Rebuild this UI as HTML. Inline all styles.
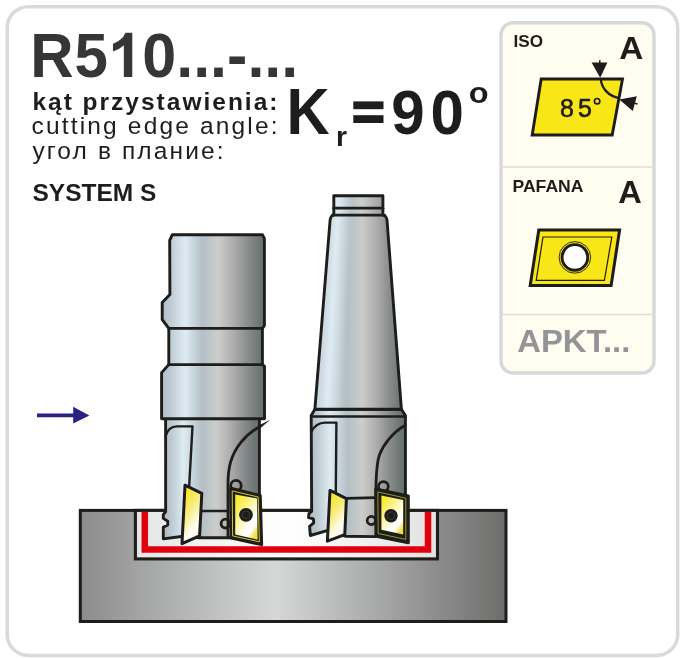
<!DOCTYPE html>
<html><head><meta charset="utf-8"><title>R510</title>
<style>html,body{margin:0;padding:0;background:#fff;}body{width:681px;height:659px;overflow:hidden;font-family:"Liberation Sans",sans-serif;}svg{display:block;will-change:transform;}</style>
</head><body>
<svg width="681" height="659" viewBox="0 0 681 659">
<defs>
<linearGradient id="mL" gradientUnits="userSpaceOnUse" x1="162" y1="0" x2="265.5" y2="0"><stop offset="0.000" stop-color="#b0bdc5"/><stop offset="0.090" stop-color="#c0cdd4"/><stop offset="0.227" stop-color="#deebf3"/><stop offset="0.386" stop-color="#b4bfc6"/><stop offset="0.540" stop-color="#cbcdcb"/><stop offset="0.680" stop-color="#b1afb0"/><stop offset="0.820" stop-color="#8b8f8e"/><stop offset="0.947" stop-color="#6e7576"/><stop offset="1.000" stop-color="#6a7172"/></linearGradient>
<linearGradient id="mR" gradientUnits="userSpaceOnUse" x1="311.2" y1="0" x2="405.4" y2="0"><stop offset="0.000" stop-color="#b0bdc5"/><stop offset="0.080" stop-color="#c0cdd4"/><stop offset="0.200" stop-color="#deebf3"/><stop offset="0.386" stop-color="#b4bfc6"/><stop offset="0.540" stop-color="#cbcdcb"/><stop offset="0.680" stop-color="#b1afb0"/><stop offset="0.820" stop-color="#8b8f8e"/><stop offset="0.947" stop-color="#6e7576"/><stop offset="1.000" stop-color="#6a7172"/></linearGradient>
<linearGradient id="mLb" gradientUnits="userSpaceOnUse" x1="165.6" y1="0" x2="259.4" y2="0"><stop offset="0.000" stop-color="#b0bdc5"/><stop offset="0.076" stop-color="#c0cdd4"/><stop offset="0.190" stop-color="#deebf3"/><stop offset="0.386" stop-color="#b4bfc6"/><stop offset="0.540" stop-color="#cbcdcb"/><stop offset="0.680" stop-color="#b1afb0"/><stop offset="0.820" stop-color="#8b8f8e"/><stop offset="0.947" stop-color="#6e7576"/><stop offset="1.000" stop-color="#6a7172"/></linearGradient>
<linearGradient id="mRb" gradientUnits="userSpaceOnUse" x1="311.2" y1="0" x2="405.4" y2="0"><stop offset="0.000" stop-color="#c2cfd6"/><stop offset="0.090" stop-color="#c1ced5"/><stop offset="0.250" stop-color="#bdc9d0"/><stop offset="0.386" stop-color="#b4bfc6"/><stop offset="0.540" stop-color="#cbcdcb"/><stop offset="0.680" stop-color="#b1afb0"/><stop offset="0.820" stop-color="#8b8f8e"/><stop offset="0.947" stop-color="#6e7576"/><stop offset="1.000" stop-color="#6a7172"/></linearGradient>
<linearGradient id="hl" gradientUnits="userSpaceOnUse" x1="-13" y1="0" x2="15" y2="0" gradientTransform="translate(332.4 308.3) matrix(1 0 -0.053 1 0 0)"><stop offset="0" stop-color="#deebf3" stop-opacity="0"/><stop offset="0.46" stop-color="#deebf3" stop-opacity="1"/><stop offset="1" stop-color="#deebf3" stop-opacity="0"/></linearGradient>
<clipPath id="coneclip"><path d="M333.8,195.7 L382.9,195.7 L382.9,215.1 Q386.2,215.6 387,220 L401.4,409.2 L314.9,409.2 L330.1,220 Q330.8,215.6 333.8,215.1 Z"/></clipPath>
<linearGradient id="mCap" gradientUnits="userSpaceOnUse" x1="332.5" y1="0" x2="384.5" y2="0"><stop offset="0.000" stop-color="#b0bdc5"/><stop offset="0.090" stop-color="#c0cdd4"/><stop offset="0.227" stop-color="#deebf3"/><stop offset="0.386" stop-color="#b4bfc6"/><stop offset="0.540" stop-color="#cbcdcb"/><stop offset="0.680" stop-color="#b1afb0"/><stop offset="0.820" stop-color="#8b8f8e"/><stop offset="0.947" stop-color="#6e7576"/><stop offset="1.000" stop-color="#6a7172"/></linearGradient>
<linearGradient id="mO" x1="0" y1="0" x2="1" y2="0"><stop offset="0.000" stop-color="#b0bdc5"/><stop offset="0.090" stop-color="#c0cdd4"/><stop offset="0.227" stop-color="#deebf3"/><stop offset="0.386" stop-color="#b4bfc6"/><stop offset="0.540" stop-color="#cbcdcb"/><stop offset="0.680" stop-color="#b1afb0"/><stop offset="0.820" stop-color="#8b8f8e"/><stop offset="0.947" stop-color="#6e7576"/><stop offset="1.000" stop-color="#6a7172"/></linearGradient>
<linearGradient id="wp" gradientUnits="userSpaceOnUse" x1="80" y1="0" x2="506" y2="0"><stop offset="0" stop-color="#8c8c8c"/><stop offset="0.458" stop-color="#d6d8d8"/><stop offset="1" stop-color="#6d6d6c"/></linearGradient>
<linearGradient id="slot" gradientUnits="userSpaceOnUse" x1="135" y1="0" x2="437" y2="0"><stop offset="0" stop-color="#e6e6e6"/><stop offset="0.5" stop-color="#ffffff"/><stop offset="1" stop-color="#e2e2e2"/></linearGradient>
<linearGradient id="insS" x1="0.2" y1="0" x2="0.7" y2="1"><stop offset="0" stop-color="#f8e71c"/><stop offset="0.15" stop-color="#f6e636"/><stop offset="0.45" stop-color="#f7ee88"/><stop offset="0.74" stop-color="#fefdf2"/><stop offset="0.84" stop-color="#ffffff"/><stop offset="1" stop-color="#f0e150"/></linearGradient>
<linearGradient id="insF" x1="0" y1="0" x2="0.75" y2="1"><stop offset="0" stop-color="#f7e71a"/><stop offset="0.2" stop-color="#f8ec4a"/><stop offset="0.75" stop-color="#ffffff"/><stop offset="0.85" stop-color="#ffffff"/><stop offset="1" stop-color="#efe04a"/></linearGradient>
</defs>
<rect x="0" y="0" width="681" height="659" fill="#ffffff"/>
<rect x="7.2" y="6.7" width="670.5" height="648.8" rx="21" ry="21" fill="#ffffff" stroke="#d9dbda" stroke-width="3.6"/>
<g font-family="Liberation Sans, sans-serif" fill="#1d1d1b">
<text transform="translate(30.30,76.80) scale(1.0000,1.0550)" font-size="60" font-weight="bold" fill="#373536">R</text>
<text transform="translate(74.50,76.80) scale(1.0000,1.0550)" font-size="60" font-weight="bold" fill="#373536">5</text>
<path transform="translate(108.1,76.9) scale(0.03,-0.03)" fill="#373536" d="M806 0 H525 V1059 Q371 915 162 846 V1101 Q272 1137 401 1237.5 Q530 1338 578 1472 H806 Z"/>
<text transform="translate(142.30,76.90) scale(1.0170,1.0500)" font-size="60" font-weight="bold" fill="#373536">0...-...</text>
<text transform="translate(32.40,109.80) scale(1.0000,1.0000)" font-size="24.5" font-weight="bold" letter-spacing="2.0">kąt przystawienia:</text>
<text transform="translate(31.60,133.50) scale(1.0000,1.0000)" font-size="24.5" letter-spacing="2.16">cutting edge angle:</text>
<text transform="translate(32.40,158.50) scale(1.0000,1.0000)" font-size="24.5" letter-spacing="2.13">угол в плание:</text>
<text transform="translate(32.50,200.80) scale(1.0660,1.0300)" font-size="23" font-weight="bold">SYSTEM S</text>
<text transform="translate(286.50,134.00) scale(0.9800,1.0480)" font-size="61" font-weight="bold">K</text>
<text transform="translate(335.90,145.80) scale(1.0000,1.0000)" font-size="28.3" font-weight="bold">r</text>
<rect x="353.3" y="101.4" width="30.2" height="7.8"/><rect x="353.3" y="115.2" width="30.2" height="7.8"/>
<text transform="translate(391.20,133.90) scale(0.9850,1.0420)" font-size="61" font-weight="bold">9</text>
<text transform="translate(430.60,133.90) scale(0.9850,1.0420)" font-size="61" font-weight="bold">0</text>
<text transform="translate(468.70,102.60) scale(1.1000,0.9800)" font-size="29.5" font-weight="bold">o</text>
</g>
<rect x="501" y="22.8" width="153" height="350.2" rx="12" ry="12" fill="#fffdf0" stroke="#d6d8d9" stroke-width="3.4"/>
<line x1="502.7" y1="167" x2="652.3" y2="167" stroke="#dcdcdc" stroke-width="1.3"/>
<line x1="502.7" y1="314.5" x2="652.3" y2="314.5" stroke="#dcdcdc" stroke-width="1.3"/>
<g font-family="Liberation Sans, sans-serif" fill="#1d1d1b" font-weight="bold">
<text x="513.6" y="47.4" font-size="16.5" textLength="29.5" lengthAdjust="spacingAndGlyphs">ISO</text>
<text transform="translate(619.20,58.90) scale(1.0600,1.0100)" font-size="31.4" font-weight="bold">A</text>
<text x="512.5" y="191.7" font-size="16.4" textLength="71" lengthAdjust="spacingAndGlyphs">PAFANA</text>
<text transform="translate(618.20,202.50) scale(1.0700,1.0000)" font-size="30.5" font-weight="bold">A</text>
<text x="517.2" y="352.4" font-size="31" fill="#929497" textLength="113.2" lengthAdjust="spacingAndGlyphs">APKT...</text>
</g>
<polygon points="541.2,79 622.5,79 612.2,135 532.2,135" fill="#f9e616" stroke="#1d1d1b" stroke-width="2.9" stroke-linejoin="miter"/>
<path d="M600.8,79 C601.5,88 608,96 619.3,98.2" fill="none" stroke="#1d1d1b" stroke-width="2.3"/>
<polygon points="600.2,77.8 591.6,62.4 607.4,62.4" fill="#1d1d1b"/>
<line x1="599.8" y1="60.2" x2="599.8" y2="63" stroke="#1d1d1b" stroke-width="1.6"/>
<polygon points="619.3,99.4 636.8,96.2 632.8,110.9" fill="#1d1d1b"/>
<line x1="634.5" y1="103.3" x2="637.6" y2="104" stroke="#1d1d1b" stroke-width="1.6"/>
<g font-family="Liberation Sans, sans-serif" fill="#1d1d1b">
<text x="559.9" y="117" font-size="25" stroke="#1d1d1b" stroke-width="0.6">8</text>
<text x="577.9" y="117" font-size="25" stroke="#1d1d1b" stroke-width="0.6">5</text>
<circle cx="597.1" cy="101.2" r="2.7" fill="none" stroke="#1d1d1b" stroke-width="1.7"/>
</g>
<polygon points="538.8,230 619.6,230 611.1,285.4 530.2,285.4" fill="#f9e616" stroke="#1d1d1b" stroke-width="3"/>
<polygon points="543,237 611.8,237 604.4,280.3 536.2,280.3" fill="none" stroke="#1d1d1b" stroke-width="1.2"/>
<circle cx="574.9" cy="257.4" r="15.8" fill="none" stroke="#1d1d1b" stroke-width="0.9"/>
<circle cx="574.9" cy="257.4" r="12.8" fill="#ffffff" stroke="#1d1d1b" stroke-width="2.9"/>
<line x1="37" y1="415.4" x2="74" y2="415.4" stroke="#2a2185" stroke-width="3.6"/>
<polygon points="73.2,406.7 89.4,415.4 73.2,423.6" fill="#2a2185"/>
<rect x="80.3" y="510.4" width="425.7" height="111.1" fill="url(#wp)" stroke="#1d1d1b" stroke-width="3"/>
<rect x="135.4" y="510.4" width="302.1" height="48.5" fill="url(#slot)" stroke="#1d1d1b" stroke-width="3.1"/>
<polyline points="144.8,511.8 144.8,549.4 428,549.4 428,511.8" fill="none" stroke="#e2000f" stroke-width="6.5"/>
<g stroke="#1d1d1b" stroke-linejoin="round" stroke-linecap="round" stroke-width="2.9">
<path d="M165.6,418 L165.65,511.6 L163.3,514.7 L163.3,518.4 L167.7,521.2 L167.7,524.9 L163.3,527.3 L163.3,538.9 L181.4,536.5 L200,537.8 L228,537.8 L259.4,537.8 L259.4,418 Z" fill="url(#mLb)"/>
<line x1="200" y1="511" x2="228" y2="511" stroke-width="2.7"/>
<path d="M165.6,436 C167,431 170.5,426.5 177,426.4 L192.5,426.4 L189.2,486" fill="none" stroke-width="2.4"/>
<polygon points="270.2,419.8 258.6,425.6 260,428.6" fill="#1d1d1b" stroke="none"/>
<path d="M259.4,427 C244,435 234.5,449 230.6,462 C228.6,469 228,475 228,484.7 L228,537.8" fill="none" stroke-width="2.8"/>
<circle cx="225.5" cy="523.6" r="4.4" fill="none" stroke-width="2.8"/>
<circle cx="236" cy="485.6" r="5.25" fill="none" stroke-width="2.8"/>
<path d="M169.7,240.4 L172.3,234.7 L262.4,234.7 L264.4,238.6 L264.4,325.6 L262.4,328.4 L262.4,364.6 L264.5,366.4 L264.5,418.7 L161.6,418.7 L161.6,372.6 L168.8,364.6 L168.8,328.4 L162.2,319.6 L162.2,302.4 L169.9,294.6 Z" fill="url(#mL)"/>
<line x1="168.8" y1="328.4" x2="262.4" y2="328.4" stroke-width="2.8"/>
<line x1="168.8" y1="364.6" x2="262.4" y2="364.6" stroke-width="2.8"/>
<polygon points="185,485.2 201.8,493.4 199.6,535.8 182,543.6" fill="url(#insS)" stroke-width="3"/>
<polygon points="230.7,488.3 260.2,495.5 261.6,544.6 231.4,538" fill="#1d1d1b" stroke-width="3.1"/>
<polygon points="232.6,491 258.2,497 259.4,541.8 233,536" fill="none" stroke="#eadb26" stroke-width="0.9"/>
<polygon points="235.2,494.6 257.1,498.4 257.6,539.7 235.2,534.5" fill="url(#insF)" stroke="none"/>
<circle cx="246" cy="514.8" r="6.9" fill="#1d1d1b" stroke="none"/>
<circle cx="246" cy="514.8" r="3.7" fill="none" stroke="#3f3f3e" stroke-width="0.8"/>
</g>
<g stroke="#1d1d1b" stroke-linejoin="round" stroke-linecap="round" stroke-width="2.9">
<path d="M314.9,409.2 L311.2,415.6 L311.65,511.3 L308.9,513.7 L308.6,517.7 L313.4,518.8 L313.7,522.9 L309.6,526.3 L310.3,535.5 L327,530.7 L345,536.2 L376,536.6 L405.4,536.6 L405.4,415.6 L401.4,409.2 Z" fill="url(#mR)"/>
<line x1="311.2" y1="416.5" x2="405.4" y2="416.5" stroke-width="2.6"/>
<line x1="346.7" y1="498.4" x2="375.4" y2="497.6" stroke-width="2.9"/>
<path d="M311.4,431.6 C313.5,427.5 318,422.8 325,422.6 L336.4,422.6 L335.8,493" fill="none" stroke-width="2.4"/>
<path d="M405.2,425.3 C392,433 383,445 379.4,455 C377,462 376.4,470 376,484.7 L376,536.6" fill="none" stroke-width="2.8"/>
<circle cx="371.3" cy="520.5" r="4.1" fill="none" stroke-width="2.7"/>
<circle cx="383.4" cy="486.5" r="4.9" fill="none" stroke-width="2.7"/>
</g>
<path d="M333.8,195.7 L382.9,195.7 L382.9,215.1 Q386.2,215.6 387,220 L401.4,409.2 L314.9,409.2 L330.1,220 Q330.8,215.6 333.8,215.1 Z" fill="url(#mRb)"/>
<rect x="300" y="190" width="120" height="225" fill="url(#hl)" clip-path="url(#coneclip)"/>
<g stroke="#1d1d1b" stroke-linejoin="round" stroke-linecap="round" stroke-width="2.9">
<path d="M333.8,195.7 L382.9,195.7 L382.9,215.1 Q386.2,215.6 387,220 L401.4,409.2 L314.9,409.2 L330.1,220 Q330.8,215.6 333.8,215.1 Z" fill="none" stroke-width="2.9"/>
<line x1="333.8" y1="208.2" x2="382.9" y2="208.2" stroke-width="2.8"/>
<line x1="332.5" y1="215.1" x2="384.5" y2="215.1" stroke-width="2.9"/>
<polygon points="330,490.4 346.4,498.6 344.8,534.6 327.4,541.2" fill="url(#insS)" stroke-width="3"/>
<polygon points="375.7,488.9 408.3,496 408.3,542.8 376.3,536.2" fill="#1d1d1b" stroke-width="3"/>
<polygon points="378.2,492 405.8,498.2 405.8,539.4 378.6,533.6" fill="none" stroke="#d8c92a" stroke-width="0.8" stroke-opacity="0.85"/>
<polygon points="381.4,495.4 403.2,500 403.2,534.4 381.4,529.8" fill="url(#insF)" stroke="none"/>
<circle cx="391" cy="515.7" r="6.7" fill="#1d1d1b" stroke="none"/>
<circle cx="391" cy="515.7" r="3.7" fill="none" stroke="#3f3f3e" stroke-width="0.8"/>
</g>
</svg>
</body></html>
